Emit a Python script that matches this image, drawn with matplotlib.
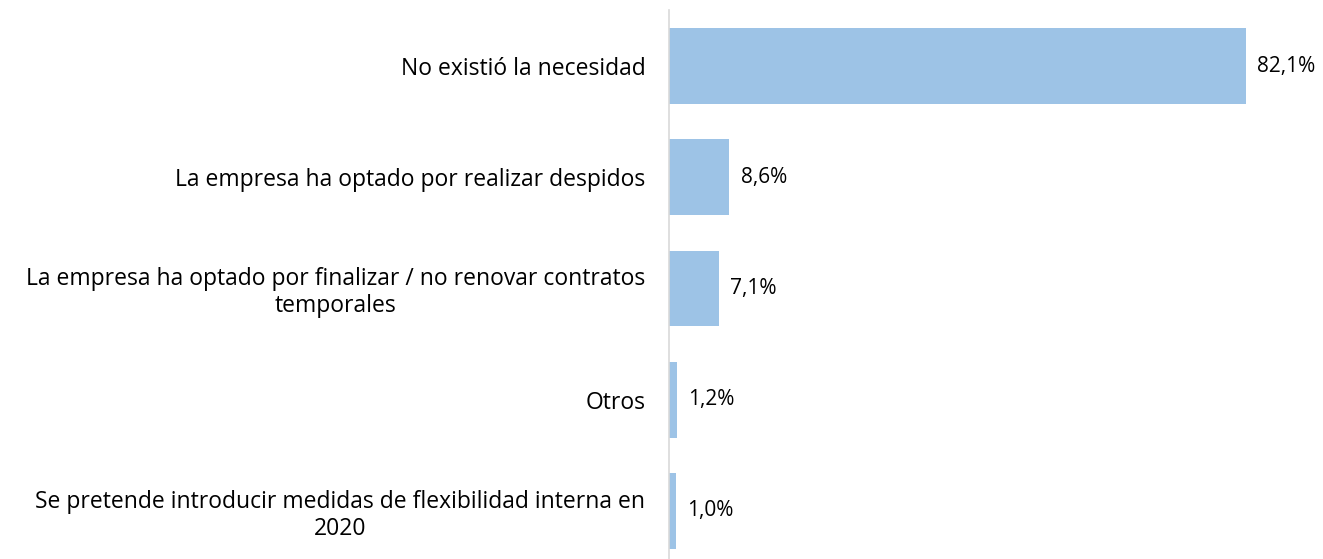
import matplotlib.pyplot as plt
from matplotlib.ticker import NullLocator

categories = [
    "No existió la necesidad",
    "La empresa ha optado por realizar despidos",
    "La empresa ha optado por finalizar / no renovar contratos\ntemporales",
    "Otros",
    "Se pretende introducir medidas de flexibilidad interna en\n2020",
]
values = [82.1, 8.6, 7.1, 1.2, 1.0]
value_labels = ["82,1%", "8,6%", "7,1%", "1,2%", "1,0%"]

plt.rcParams["font.family"] = ["Open Sans", "DejaVu Sans"]

fig = plt.figure(figsize=(13.23, 5.59), dpi=100)
ax = fig.add_axes([669 / 1323, -0.0136, 92 * 7.03 / 1323, 0.995])

ypos = list(range(len(categories)))
ax.barh(ypos, values, height=0.68, color="#9DC3E6", zorder=2)
ax.set_ylim(len(categories) - 0.5, -0.5)
ax.set_xlim(0, 92)

for y, v, lbl in zip(ypos, values, value_labels):
    ax.annotate(lbl, (v, y), xytext=(8, 0), textcoords="offset points",
                ha="left", va="center", fontsize=15, color="#000000")

ax.set_yticks(ypos)
ax.set_yticklabels(categories, fontsize=16.5, color="#000000")
for t in ax.get_yticklabels():
    t.set_multialignment("center")
    t.set_linespacing(1.15)
ax.tick_params(axis="y", length=0, pad=17)
ax.xaxis.set_major_locator(NullLocator())
for s in ["top", "right", "bottom"]:
    ax.spines[s].set_visible(False)
ax.spines["left"].set_color("#D9D9D9")
ax.spines["left"].set_linewidth(1.2)

fig.savefig("out.png", dpi=100)
